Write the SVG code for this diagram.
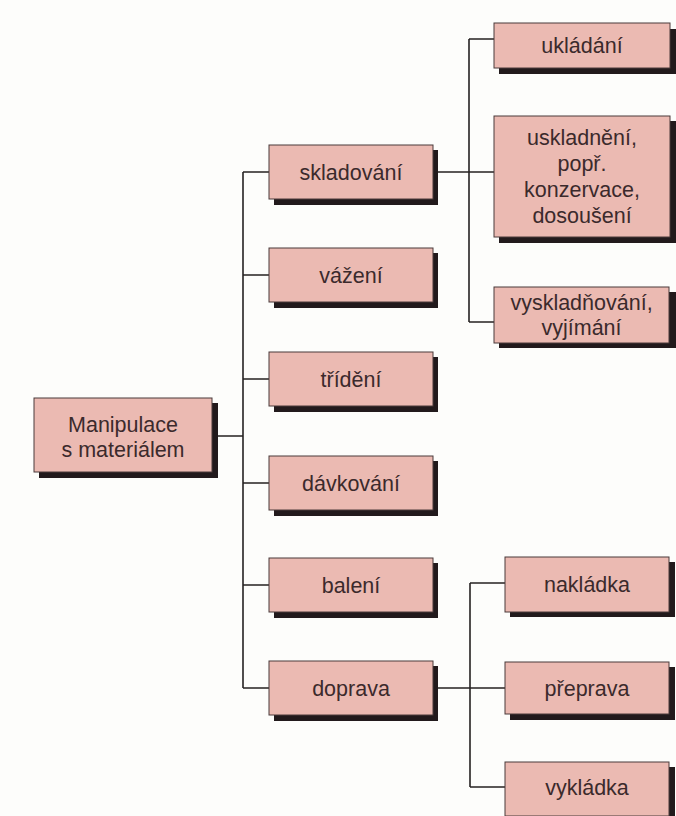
<svg xmlns="http://www.w3.org/2000/svg" width="676" height="816" viewBox="0 0 676 816">
<style>
.box{fill:#ebbab2;stroke:#4a3a3a;stroke-width:1}
.sh{fill:#221a1c}
.t{font-family:"Liberation Sans",Arial,sans-serif;font-size:21.5px;fill:#3b2a2c;text-anchor:middle}
.c{stroke:#262222;stroke-width:1.6;fill:none}
</style>
<rect width="676" height="816" fill="#fdfdfb"/>
<g id="connectors">
<path class="c" d="M212 436H243M243 172V688M243 172H269M243 275H269M243 379H269M243 483H269M243 585H269M243 688H269"/>
<path class="c" d="M437 172H494M469 39V322M469 39H494M469 322H494"/>
<path class="c" d="M437 688H505M470 583V787M470 583H505M470 787H505"/>
</g>
<g id="n-main"><rect class="sh" x="39" y="403" width="179" height="75"/><rect class="box" x="34" y="398" width="178" height="74"/><text class="t" x="123" y="432">Manipulace</text><text class="t" x="123" y="457">s materiálem</text></g>
<g id="n-skladovani"><rect class="sh" x="274" y="150" width="164" height="55"/><rect class="box" x="269" y="145" width="164" height="54"/><text class="t" x="351" y="179.5">skladování</text></g>
<g id="n-vazeni"><rect class="sh" x="274" y="253" width="164" height="55"/><rect class="box" x="269" y="248" width="164" height="54"/><text class="t" x="351" y="282.5">vážení</text></g>
<g id="n-trideni"><rect class="sh" x="274" y="357" width="164" height="55"/><rect class="box" x="269" y="352" width="164" height="54"/><text class="t" x="351" y="386.5">třídění</text></g>
<g id="n-davkovani"><rect class="sh" x="274" y="461" width="164" height="55"/><rect class="box" x="269" y="456" width="164" height="54"/><text class="t" x="351" y="490.5">dávkování</text></g>
<g id="n-baleni"><rect class="sh" x="274" y="563" width="164" height="55"/><rect class="box" x="269" y="558" width="164" height="54"/><text class="t" x="351" y="592.5">balení</text></g>
<g id="n-doprava"><rect class="sh" x="274" y="666" width="164" height="55"/><rect class="box" x="269" y="661" width="164" height="54"/><text class="t" x="351" y="695.5">doprava</text></g>
<g id="n-ukladani"><rect class="sh" x="499" y="29" width="177" height="45"/><rect class="box" x="494" y="23" width="176" height="45"/><text class="t" x="582" y="53">ukládání</text></g>
<g id="n-uskladneni"><rect class="sh" x="499" y="121" width="177" height="122"/><rect class="box" x="494" y="116" width="176" height="121"/><text class="t" x="582" y="145">uskladnění,</text><text class="t" x="582" y="171">popř.</text><text class="t" x="582" y="197">konzervace,</text><text class="t" x="582" y="223">dosoušení</text></g>
<g id="n-vyskladnovani"><rect class="sh" x="499" y="292" width="177" height="56"/><rect class="box" x="494" y="287" width="175" height="56"/><text class="t" x="581.5" y="310">vyskladňování,</text><text class="t" x="581.5" y="335">vyjímání</text></g>
<g id="n-nakladka"><rect class="sh" x="510" y="562" width="165" height="55"/><rect class="box" x="505" y="557" width="164" height="55"/><text class="t" x="587" y="592">nakládka</text></g>
<g id="n-preprava"><rect class="sh" x="510" y="667" width="165" height="53"/><rect class="box" x="505" y="662" width="164" height="52"/><text class="t" x="587" y="695.5">přeprava</text></g>
<g id="n-vykladka"><rect class="sh" x="510" y="767" width="165" height="54"/><rect class="box" x="505" y="762" width="164" height="54"/><text class="t" x="587" y="794.5">vykládka</text></g>
</svg>
